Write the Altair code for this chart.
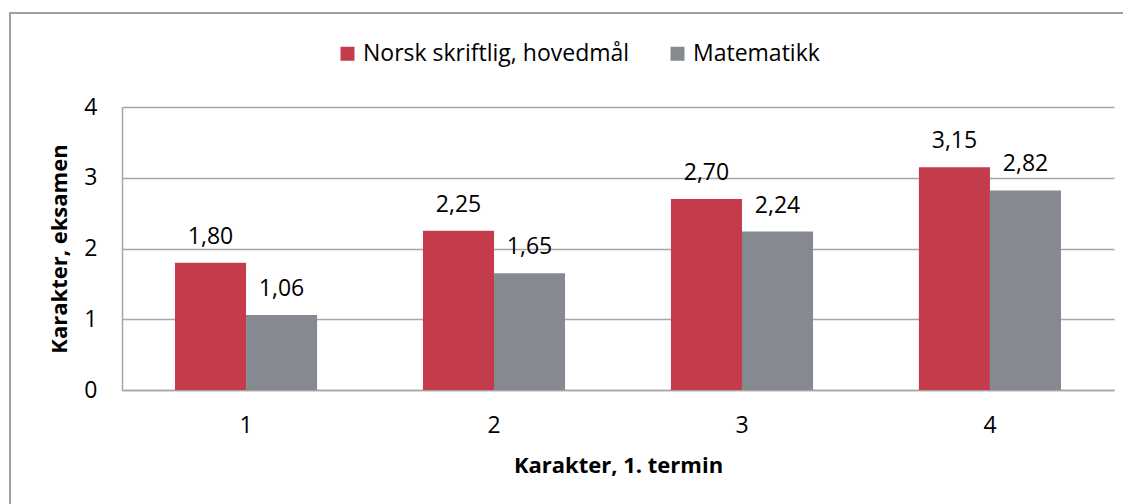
import altair as alt
import pandas as pd

categories = ["1", "2", "3", "4"]
series_names = ["Norsk skriftlig, hovedmål", "Matematikk"]
norsk = [1.80, 2.25, 2.70, 3.15]
matte = [1.06, 1.65, 2.24, 2.82]
colors = ["#C43C4C", "#868A90"]

rows = []
for c, v in zip(categories, norsk):
    rows.append({"kat": c, "serie": series_names[0], "verdi": v})
for c, v in zip(categories, matte):
    rows.append({"kat": c, "serie": series_names[1], "verdi": v})
df = pd.DataFrame(rows)

FONT = "Open Sans"
FS = 23
W, H = 992, 283

base = alt.Chart(df).transform_calculate(
    lbl="replace(format(datum.verdi, '.2f'), '.', ',')"
)

x_enc = alt.X(
    "kat:N",
    title="Karakter, 1. termin",
    sort=categories,
    scale=alt.Scale(paddingInner=0.427, paddingOuter=0.2137),
    axis=alt.Axis(
        labelAngle=0, ticks=False, labelPadding=24, labelFontSize=FS,
        labelFont=FONT, labelColor="#000000",
        domainColor="#a6a6a6", domainWidth=1.5,
        titleFont=FONT, titleFontSize=22, titleFontWeight="bold",
        titleColor="#000000", titleY=82, titleBaseline="alphabetic",
    ),
)
xoff = alt.XOffset("serie:N", sort=series_names,
                   scale=alt.Scale(paddingInner=0, paddingOuter=0))
y_enc = alt.Y(
    "verdi:Q",
    title="Karakter, eksamen",
    scale=alt.Scale(domain=[0, 4], nice=False),
    axis=alt.Axis(
        values=[0, 1, 2, 3, 4], format="d", ticks=False, labelPadding=25,
        labelFontSize=FS, labelFont=FONT, labelColor="#000000",
        domainColor="#a6a6a6", domainWidth=1.5,
        gridColor="#a6a6a6", gridWidth=1.5,
        titleFont=FONT, titleFontSize=22, titleFontWeight="bold",
        titleColor="#000000", titleX=-56, titleBaseline="alphabetic",
    ),
)

bars = base.mark_bar().encode(
    x=x_enc,
    xOffset=xoff,
    y=y_enc,
    color=alt.Color(
        "serie:N",
        sort=series_names,
        scale=alt.Scale(domain=series_names, range=colors),
        legend=alt.Legend(
            title=None, orient="none", direction="horizontal",
            legendX=214, legendY=-65, symbolType="square", symbolSize=196,
            symbolStrokeWidth=0, labelFontSize=FS, labelFont=FONT,
            labelColor="#000000", labelOffset=4, columnPadding=36, padding=0,
            labelLimit=0,
        ),
    ),
)

labels = base.mark_text(
    baseline="alphabetic", dy=-19, fontSize=FS, font=FONT, color="#000000"
).encode(
    x=alt.X("kat:N", sort=categories),
    xOffset=alt.XOffset("serie:N", sort=series_names),
    y="verdi:Q",
    text="lbl:N",
)

border = alt.Chart(pd.DataFrame({"a": [0]})).mark_rect(
    fill=None, stroke="#a0a0a0", strokeWidth=2
).encode(
    x=alt.value(-112), x2=alt.value(1040),
    y=alt.value(-94), y2=alt.value(500),
)

chart = alt.layer(border, bars, labels).properties(
    width=W, height=H,
    autosize=alt.AutoSizeParams(type="none"),
    padding={"left": 114, "top": 99, "right": 9, "bottom": 114},
).configure(background="white").configure_view(stroke=None)

chart.save("out.html", embed_options={"renderer": "svg", "actions": False})
